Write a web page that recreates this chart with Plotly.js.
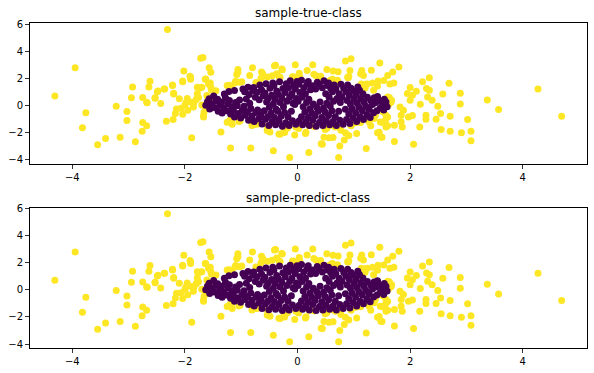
<!DOCTYPE html>
<html>
<head>
<meta charset="utf-8">
<script src="https://cdn.plot.ly/plotly-3.0.1.min.js"></script>
<style>html,body{margin:0;padding:0;background:#fff;}#chart{width:594px;height:373px;}</style>
</head>
<body>
<div id="chart"></div>
<script>
// Titles of the two panels
const panelTitles = ['sample-true-class', 'sample-predict-class'];
const xTicks = [-4, -2, 0, 2, 4];
const yTicks = [-4, -2, 0, 2, 4, 6];

// Class 1 (yellow) points [x, y]
const yellowPoints = [
[-4.31,0.71],[-3.95,2.81],[-3.76,-0.54],[-3.82,-1.65],[-3.55,-2.91],[-3.41,-2.44],[-3.22,-0.05],[-3.03,-0.44],
[-3.03,-1.11],[-3.15,-2.34],[-2.88,-2.68],[-2.93,1.38],[-2.95,0.57],[-2.75,0.59],[-2.67,0.20],[-2.64,1.38],
[-2.62,1.80],[-2.75,-1.26],[-2.68,-1.50],[-2.76,-1.90],[-2.53,0.57],[-2.48,1.08],[-2.43,0.15],[-2.36,1.23],
[-2.31,5.64],[-2.33,-1.16],[-2.22,1.48],[-2.20,0.91],[-2.21,-1.03],[-2.17,-0.59],[-2.07,-0.20],[-2.04,-0.64],
[-2.02,2.56],[-2.04,1.82],[-1.91,2.17],[-1.90,1.95],[-1.88,-2.39],[-1.96,0.52],[-1.98,0.22],[-1.84,0.22],
[-1.78,0.64],[-1.73,1.31],[-1.72,3.50],[-1.68,3.56],[-1.64,1.95],[-1.57,2.81],[-1.54,2.46],[-1.55,1.67],
[-1.53,1.18],[-1.66,-0.47],[-1.67,-0.84],[-1.59,0.44],[-1.36,-1.95],[-1.19,-3.15],[-0.83,-3.15],[-0.43,-3.35],
[-0.14,-3.84],[-1.20,-1.08],[-1.16,-1.38],[-1.02,-1.13],[-0.77,-1.40],[-0.72,-1.38],[-0.53,-1.53],[-0.49,-1.95],
[-0.31,-2.12],[-0.23,-2.00],[-0.05,-2.19],[-0.03,-1.58],[-0.80,2.81],[-1.06,2.68],[-1.06,2.46],[-1.10,1.80],
[-1.21,1.50],[-1.03,1.72],[-0.74,1.70],[-0.64,2.49],[-0.65,2.00],[-0.53,2.12],[-0.39,2.98],[-0.37,2.36],
[-0.27,2.66],[-0.04,3.03],[-0.07,2.12],[0.04,2.12],
[0.27,3.03],[0.17,2.59],[0.29,2.32],[0.41,2.17],[0.52,2.68],[0.63,2.56],[0.72,2.51],[0.71,1.87],
[0.57,1.82],[0.85,3.30],[0.95,3.47],[0.93,2.59],[0.90,2.07],[1.14,2.59],[1.17,2.22],[1.31,2.61],
[1.46,3.15],[1.43,1.82],[1.33,1.67],[1.21,1.58],[1.35,1.13],[1.60,2.22],[1.69,2.49],[1.80,2.86],
[1.64,1.60],[1.71,1.67],[1.60,0.64],[1.67,0.39],[1.62,0.10],[1.82,-0.10],[1.88,-0.34],[1.84,-0.71],
[1.95,0.89],[2.00,1.33],[2.04,0.76],[2.11,1.06],[2.00,0.39],[2.18,0.10],[2.22,1.77],[2.34,2.07],
[2.29,1.26],[2.34,1.13],[2.31,0.64],[2.39,0.39],[2.58,0.86],[2.69,1.65],[2.89,0.91],[2.89,0.12],
[2.49,-0.05],[2.54,-0.59],[2.71,-0.79],[2.46,-1.01],[2.28,-0.71],[2.28,-1.01],[2.04,-0.74],[1.97,-0.84],
[2.17,-1.58],[2.55,-1.77],[2.71,-1.90],[2.91,-2.02],[3.02,-1.03],[3.08,-1.90],[3.08,-2.61],[2.06,-2.86],
[3.37,0.42],[3.57,-0.30],[4.27,1.23],[4.69,-0.79],[1.72,-1.45],[1.86,-1.58],[1.72,-2.66],[1.22,-3.18],
[1.48,-2.32],[1.42,-2.02],[1.57,-1.58],[1.56,-1.08],[1.57,-0.71],[1.47,-1.21],[1.38,-0.71],[1.05,-2.07],
[1.03,-1.28],[0.95,-1.50],[0.85,-2.02],[0.91,-2.22],[0.83,-2.56],[0.75,-3.00],[0.73,-3.84],[0.77,-1.82],
[0.67,-1.58],[0.63,-2.36],[0.56,-2.39],[0.49,-1.77],[0.44,-2.86],[0.20,-3.47],[0.21,-1.50],[0.14,-2.07],
[0.02,-1.70],
[-1.11,1.69],[-0.99,1.77],[-0.62,2.15],[-0.45,2.20],[-0.33,2.15],[-0.41,2.95],[-0.28,2.70],[-0.09,2.14],
[0.33,2.20],[-1.04,-1.18],[-0.80,-1.42],[-0.54,-1.85],[-0.33,-2.10],[-0.24,-1.73],[-0.18,-1.68],[0.01,-1.54],
[0.15,-1.98],[0.42,-2.83],[0.47,-2.34],[0.52,-1.68],[0.89,2.09],[1.13,1.60],[1.20,1.30],[1.42,1.45],
[1.63,0.60],[1.66,0.24],[1.45,-1.97],[1.50,-2.34],[1.84,-1.20],[1.30,-1.50],[0.62,1.95],[0.66,1.65],
[-1.63,1.96],[-1.58,1.60],[-1.54,1.35],[-1.78,1.35],[-1.78,0.90],[-1.76,0.60],[-1.88,0.25],[-1.63,-0.20],
[-1.54,0.39],[-1.45,1.10],[-1.90,2.09],[-2.22,1.52],[-2.20,0.86],[-2.04,1.77],[-2.37,1.23],[-2.49,1.03],
[-2.68,0.24],[-2.53,0.54],[-2.10,0.50],[-2.00,0.05],[-1.85,-0.10],[-1.95,-0.35],[-2.15,-0.25],[-1.80,0.45],
[-1.70,0.05],[-1.67,-0.74],[-1.25,-1.23],[-1.17,-1.23],[-1.08,2.30],[-0.85,2.22],[-0.62,2.35],[-0.31,2.10],
[-1.25,1.48],[-1.17,1.35],[-1.70,1.35],[-1.61,0.74],[-0.81,-1.48],
[0.03,2.40],[0.38,2.05],[0.59,1.90],[0.91,2.15],[1.12,2.35],[1.24,1.60],[1.53,1.85],
[0.03,-1.45],[0.30,-1.55],[0.59,-1.45],[0.77,-1.25],[0.95,-1.45],[1.12,-1.25],[1.27,-1.20],[1.36,-0.95],
[1.51,-1.25],[1.60,-1.50],[1.52,-0.45],[1.60,-0.85]
];

// Class 0 (purple) points [x, y]
const purplePoints = [
[-1.63,0.02],[-1.60,0.28],
[-1.56,-0.26],[-1.53,0.12],[-1.57,0.50],
[-1.48,-0.15],[-1.45,0.33],[-1.49,0.70],
[-1.41,-0.42],[-1.38,0.04],[-1.42,0.46],
[-1.34,-0.55],[-1.31,-0.18],[-1.35,0.27],[-1.30,0.86],
[-1.26,-0.38],[-1.24,0.14],[-1.28,0.57],[-1.22,1.04],
[-1.19,-0.62],[-1.17,-0.08],[-1.21,0.38],
[-1.12,-0.84],[-1.14,-0.36],[-1.10,0.22],[-1.12,1.12],
[-1.05,-0.58],[-1.07,-0.02],[-1.03,0.41],
[-1.01,-0.92],[-0.98,-0.33],[-0.97,1.22],
[-0.93,-0.71],[-0.95,-0.06],[-0.91,0.49],[-0.94,1.02],
[-0.87,-1.08],[-0.89,-0.48],[-0.85,0.18],[-0.86,0.82],[-0.88,1.36],
[-0.81,-0.77],[-0.83,-0.22],[-0.79,1.11],
[-0.77,-1.18],[-0.74,-0.52],[-0.75,0.62],[-0.78,1.33],
[-0.69,-0.97],[-0.71,-0.33],[-0.68,0.43],[-0.72,0.98],[-0.67,1.52],
[-0.63,-1.37],[-0.65,-0.68],[-0.61,0.72],[-0.64,1.18],
[-0.57,-1.02],[-0.59,-0.38],[-0.55,0.27],[-0.58,0.93],[-0.56,1.62],
[-0.51,-1.47],[-0.53,-0.83],[-0.50,-0.12],[-0.52,0.52],[-0.49,1.28],
[-0.45,-1.22],[-0.47,-0.57],[-0.43,0.12],[-0.46,0.77],[-0.44,1.68],
[-0.39,-1.43],[-0.41,-0.88],[-0.38,-0.27],[-0.40,0.47],[-0.37,1.07],[-0.42,1.48],
[-0.33,-1.12],[-0.35,-0.43],[-0.31,0.22],[-0.34,0.83],[-0.32,1.77],
[-0.27,-1.53],[-0.29,-0.78],[-0.25,-0.08],[-0.28,0.57],[-0.26,1.27],
[-0.21,-1.27],[-0.23,-0.52],[-0.19,0.32],[-0.22,0.97],[-0.20,1.62],
[-0.15,-1.48],[-0.17,-0.83],[-0.14,0.62],[-0.16,1.32],[-0.13,1.83],
[-0.09,-1.12],[-0.11,-0.43],[-0.08,0.17],[-0.10,0.87],[-0.07,1.52],
[-0.03,-1.38],[-0.05,0.07],[-0.02,0.52],[-0.04,1.22],[-0.01,1.78],
[0.03,-1.13],[0.01,0.32],[0.04,0.97],[0.02,1.57],
[0.09,-1.43],[0.07,-0.82],[0.10,-0.08],[0.08,0.62],[0.11,1.32],[0.07,1.88],
[0.15,-1.18],[0.13,-0.48],[0.16,0.22],[0.14,0.87],[0.17,1.58],
[0.21,-1.48],[0.19,-0.88],[0.22,-0.23],[0.20,0.47],[0.23,1.17],[0.19,1.78],
[0.27,-1.08],[0.25,-0.53],[0.28,0.12],[0.26,1.47],
[0.33,-1.53],[0.31,-0.78],[0.34,-0.13],[0.32,1.22],[0.35,1.73],
[0.39,-1.23],[0.37,-0.43],[0.40,0.27],[0.38,1.57],
[0.45,-1.48],[0.43,-0.88],[0.46,-0.18],[0.44,1.32],[0.47,1.83],
[0.51,-1.13],[0.49,-0.48],[0.52,0.17],[0.50,0.87],[0.53,1.48],
[0.57,-1.43],[0.55,-0.73],[0.58,-0.03],[0.56,0.62],[0.59,1.27],[0.55,1.68],
[0.63,-1.18],[0.61,-0.38],[0.64,0.32],[0.62,1.02],[0.65,1.53],
[0.69,-1.48],[0.67,-0.83],[0.70,0.52],[0.68,1.22],
[0.75,-1.08],[0.73,-0.43],[0.76,0.22],[0.74,0.87],[0.77,1.58],
[0.81,-1.38],[0.79,0.62],[0.82,1.28],
[0.87,-1.03],[0.85,-0.28],[0.88,0.37],[0.86,1.02],[0.89,1.53],
[0.93,-1.33],[0.91,-0.63],[0.94,0.12],[0.92,0.77],[0.95,1.28],
[0.99,-0.93],[0.97,-0.23],[1.00,0.47],[0.98,1.12],
[1.05,-1.18],[1.03,-0.53],[1.06,0.17],[1.04,0.82],[1.07,1.38],
[1.11,-0.83],[1.09,-0.13],[1.12,0.52],[1.10,1.13],
[1.17,-1.03],[1.15,-0.38],[1.18,0.27],[1.16,0.88],
[1.23,-0.68],[1.21,-0.03],[1.24,0.62],
[1.29,-0.88],[1.27,-0.28],[1.30,0.37],
[1.35,-0.53],[1.33,0.07],[1.36,0.58],
[1.41,-0.38],[1.39,0.22],[1.42,0.68],
[1.47,-0.18],[1.45,0.37],
[1.53,-0.33],[1.51,0.12],[1.54,0.47],
[1.59,-0.08],[1.57,0.27]
];

const YELLOW = '#fde725';
const PURPLE = '#440154';

function scatter(points, color, xa, ya) {
  return {
    type: 'scatter', mode: 'markers',
    x: points.map(p => p[0]), y: points.map(p => p[1]),
    xaxis: xa, yaxis: ya,
    marker: {color: color, size: 7, line: {width: 0}},
    hoverinfo: 'skip'
  };
}

const data = [
  scatter(yellowPoints, YELLOW, 'x', 'y'),
  scatter(purplePoints, PURPLE, 'x', 'y'),
  scatter(yellowPoints, YELLOW, 'x2', 'y2'),
  scatter(purplePoints, PURPLE, 'x2', 'y2')
];

const tickFont = {family: 'DejaVu Sans, sans-serif', size: 10, color: '#000'};
function xAxis(anchor) {
  return {
    domain: [0.0497, 0.9882], range: [-4.76, 5.14], anchor: anchor,
    tickvals: xTicks, ticks: 'outside', ticklen: 3.5, tickwidth: 0.8, tickcolor: '#000',
    showline: true, linecolor: '#000', linewidth: 1, mirror: true,
    showgrid: false, zeroline: false, tickfont: tickFont
  };
}
function yAxis(domain, anchor) {
  return {
    domain: domain, range: [-4.33, 6.08], anchor: anchor,
    tickvals: yTicks, ticks: 'outside', ticklen: 3.5, tickwidth: 0.8, tickcolor: '#000',
    showline: true, linecolor: '#000', linewidth: 1, mirror: true,
    showgrid: false, zeroline: false, tickfont: tickFont
  };
}

const layout = {
  width: 594, height: 373,
  margin: {l: 0, r: 0, t: 0, b: 0},
  paper_bgcolor: '#fff', plot_bgcolor: '#fff',
  showlegend: false,
  xaxis: xAxis('y'),
  yaxis: yAxis([0.5603, 0.937], 'x'),
  xaxis2: xAxis('y2'),
  yaxis2: yAxis([0.0657, 0.4432], 'x2'),
  annotations: [
    {text: panelTitles[0], xref: 'paper', yref: 'paper', x: 0.519, y: 0.964,
     xanchor: 'center', yanchor: 'middle', showarrow: false,
     font: {family: 'DejaVu Sans, sans-serif', size: 12, color: '#000'}},
    {text: panelTitles[1], xref: 'paper', yref: 'paper', x: 0.519, y: 0.468,
     xanchor: 'center', yanchor: 'middle', showarrow: false,
     font: {family: 'DejaVu Sans, sans-serif', size: 12, color: '#000'}}
  ]
};

Plotly.newPlot('chart', data, layout, {displayModeBar: false, staticPlot: true});
</script>
</body>
</html>
